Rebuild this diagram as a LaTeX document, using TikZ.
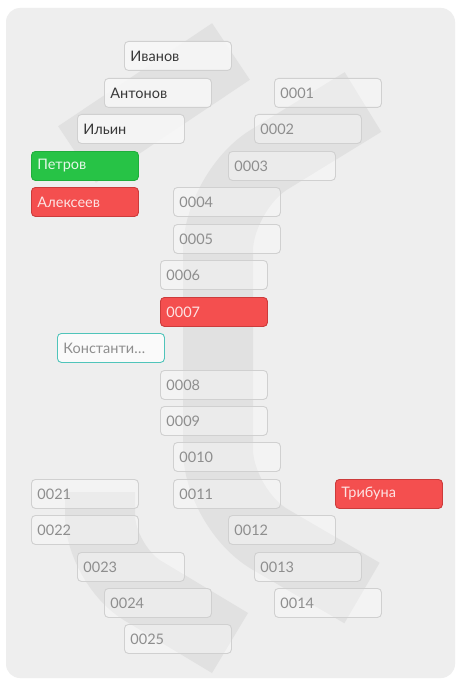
\documentclass[tikz,border=0pt]{standalone}
\usepackage{fontspec}
\setmainfont{Lato}
\usetikzlibrary{positioning}
\definecolor{panelbg}{HTML}{EEEEEE}
\definecolor{bandgray}{HTML}{E1E1E1}
\definecolor{seatline}{HTML}{D0D0D0}
\definecolor{seattext}{HTML}{8E8E8E}
\definecolor{okgreen}{HTML}{27C346}
\definecolor{okgreenline}{HTML}{1FAE3C}
\definecolor{badred}{HTML}{F44F4F}
\definecolor{badredline}{HTML}{CC3B3B}
\definecolor{tealline}{HTML}{4FC4BA}
\tikzset{
    seat/.style={
        draw=seatline,
        fill=white,
        fill opacity=0.35,
        text opacity=1,
        rounded corners=4pt,
        line width=0.9pt,
        text width=95pt,
        inner xsep=6pt,
        inner ysep=0pt,
        minimum height=29pt,
        align=left,
        anchor=north west,
        text=seattext,
        font=\fontsize{14.5}{16}\selectfont
    },
    person/.style={
        seat,
        fill=white!97!black,
        fill opacity=0.9,
        text=black!78
    },
    present/.style={seat, draw=okgreenline, fill=okgreen, fill opacity=1, text=white!88!okgreen},
    absent/.style={seat, draw=badredline, fill=badred, fill opacity=1, text=white!85!badred},
    selected/.style={seat, draw=tealline, fill=white!98!black, fill opacity=1},
    band/.style={draw=bandgray, line width=70pt, line cap=butt}
}

\begin{document}
\begin{tikzpicture}[x=1pt, y=-1pt]
    \useasboundingbox (0,0) rectangle (457,682);
    \fill[white] (0,0) rectangle (457,682);
    % Panel
    \fill[panelbg, rounded corners=14pt] (6,8) rectangle (455,678);

    % Bands behind the seats
    \draw[band, line width=68pt] (231,51.5) -- (77,154.5);
    \draw[band, rounded corners=60pt] (363,102) -- (218,191) -- (218,509) -- (362,593);
    \draw[band, rounded corners=50pt] (100,492) -- (100,565) -- (230,643);

    % Names - left column
    \node[person] (ivanov) at (124,41) {Иванов};
    \node[person] (antonov) at (104,78) {Антонов};
    \node[person] (ilyin) at (77,114) {Ильин};
    \node[present] (petrov) at (31,151) {Петров};
    \node[absent] (alekseev) at (31,187) {Алексеев};
    \node[selected] (konst) at (57,333) {Константи…};
    \node[absent] (tribuna) at (335,479) {Трибуна};

    % Seats 0001 - 0014
    \node[seat] (s1) at (274,78) {0001};
    \node[seat] (s2) at (254,114) {0002};
    \node[seat] (s3) at (228,151) {0003};
    \node[seat] (s4) at (173,187) {0004};
    \node[seat] (s5) at (173,224) {0005};
    \node[seat] (s6) at (160,260) {0006};
    \node[absent] (s7) at (160,297) {0007};
    \node[seat] (s8) at (160,370) {0008};
    \node[seat] (s9) at (160,406) {0009};
    \node[seat] (s10) at (173,442) {0010};
    \node[seat] (s11) at (173,479) {0011};
    \node[seat] (s12) at (228,515) {0012};
    \node[seat] (s13) at (254,552) {0013};
    \node[seat] (s14) at (274,588) {0014};

    % Seats 0021 - 0025
    \node[seat] (s21) at (31,479) {0021};
    \node[seat] (s22) at (31,515) {0022};
    \node[seat] (s23) at (77,552) {0023};
    \node[seat] (s24) at (104,588) {0024};
    \node[seat] (s25) at (124,624) {0025};
\end{tikzpicture}
\end{document}
